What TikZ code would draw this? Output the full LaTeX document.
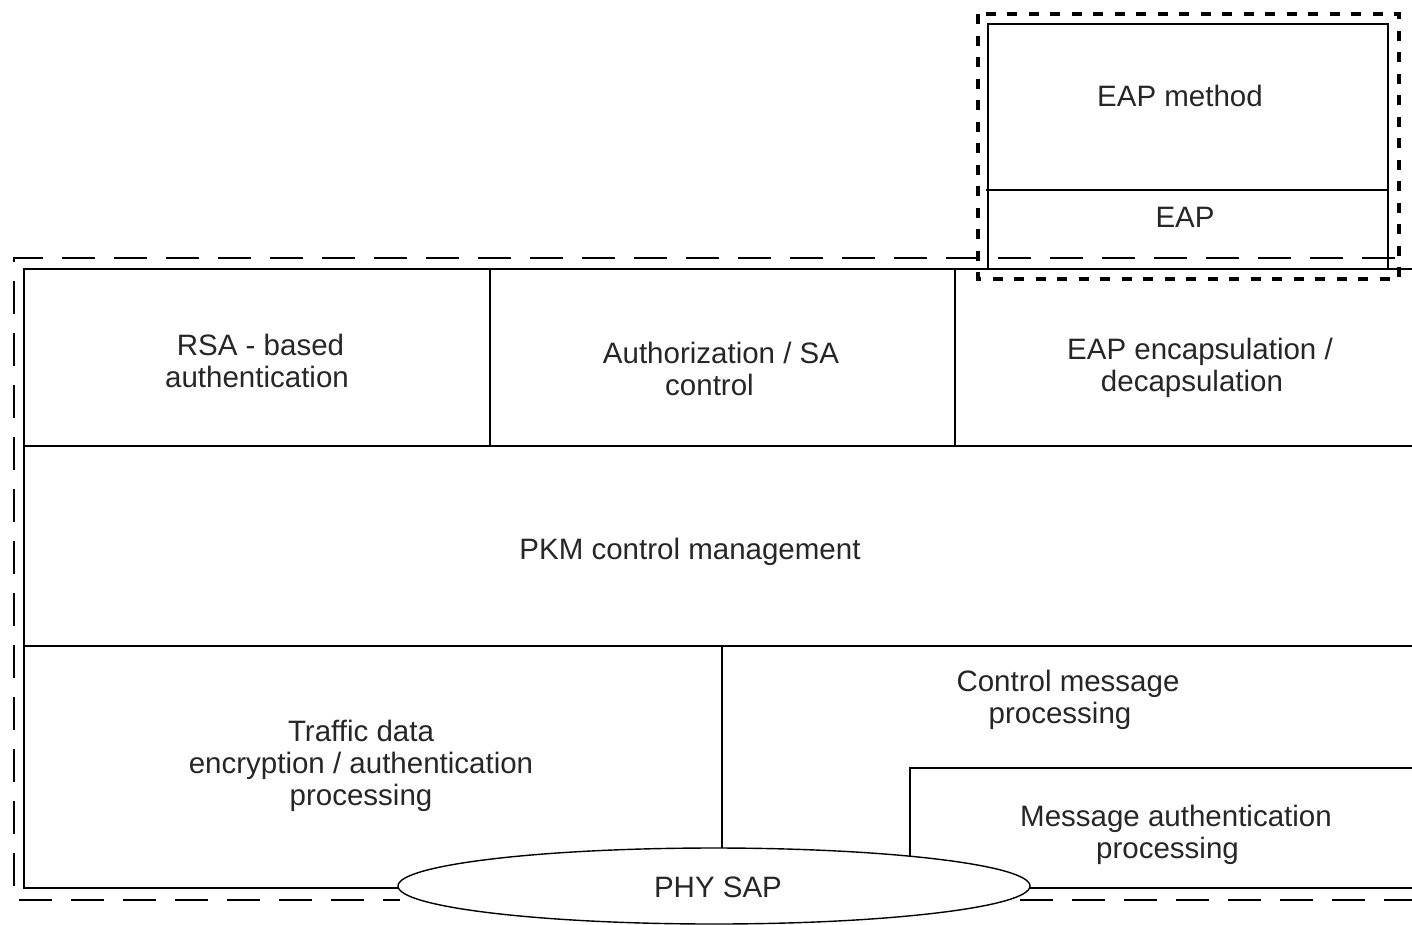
\documentclass[tikz,border=0pt]{standalone}
\usepackage{fontspec}
\setmainfont{Liberation Sans}
\usetikzlibrary{shapes.geometric}
\begin{document}
\begin{tikzpicture}[x=1pt,y=-1pt,
  solidline/.style={line width=1.4pt},
  longdash/.style={line width=1.4pt, dash pattern=on 33pt off 19pt},
  shortdash/.style={line width=3.4pt, dash pattern=on 10pt off 11.5pt},
  lbl/.style={align=center, inner sep=0pt, text=black!85,
    font=\fontsize{29.5}{32}\selectfont}]
\useasboundingbox (0,0) rectangle (1412,924);

% EAP stack above the security sublayer
\draw[shortdash] (978,14) rectangle (1399,279);
\draw[solidline] (988,269) -- (988,24) -- (1388,24) -- (1388,269);
\draw[solidline] (986,190) -- (1388,190);

% security sublayer boundary
\draw[longdash] (1395,258) -- (14,258) -- (14,900) -- (400,900);
\draw[longdash] (1020,900) -- (1412,900);

% layered blocks
\draw[solidline] (1412,269) -- (24,269) -- (24,888) -- (1412,888);
\draw[solidline] (24,446) -- (1412,446);
\draw[solidline] (24,646) -- (1412,646);
\draw[solidline] (490,269) -- (490,446);
\draw[solidline] (955,269) -- (955,446);
\draw[solidline] (722,646) -- (722,860);
\draw[solidline] (910,870) -- (910,768) -- (1412,768);

% service access point
\node[draw, solidline, fill=white, ellipse, minimum width=632pt,
  minimum height=76pt, inner sep=0pt] (sap) at (714,886) {};
\node[lbl] (saplbl) at (718,887) {PHY SAP};

% labels
\node[lbl] (method) at (1180,96) {EAP method};
\node[lbl] (eap) at (1185,217) {EAP};
\node[lbl] (rsa) at (257,361) {\hspace*{7pt}RSA - based\\authentication};
\node[lbl] (auth) at (721,369) {Authorization / SA\\control\hspace*{23pt}};
\node[lbl] (encap) at (1200,368) {EAP encapsulation /\\decapsulation\hspace*{16pt}};
\node[lbl] (pkm) at (690,552) {PKM control management};
\node[lbl] (traffic) at (361,766) {Traffic data\\encryption / authentication\\processing};
\node[lbl] (ctrl) at (1068,700) {Control message\\processing\hspace*{16pt}};
\node[lbl] (msgauth) at (1176,835) {Message authentication\\processing\hspace*{17pt}};
\end{tikzpicture}
\end{document}
